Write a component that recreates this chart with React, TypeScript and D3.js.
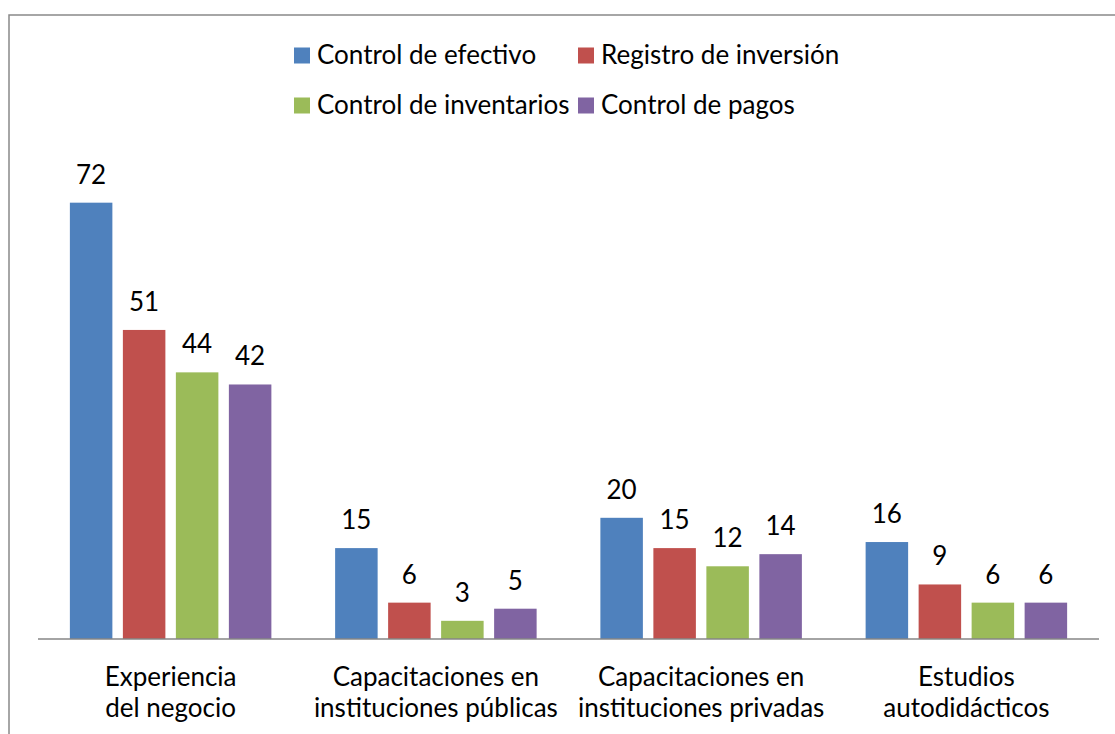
import React from "react";
import * as d3 from "d3";

const categories = [
  ["Experiencia", "del negocio"],
  ["Capacitaciones en", "instituciones públicas"],
  ["Capacitaciones en", "instituciones privadas"],
  ["Estudios", "autodidácticos"],
];
const categoryKeys = ["exp", "pub", "priv", "auto"];
const seriesNames = ["Control de efectivo", "Registro de inversión", "Control de inventarios", "Control de pagos"];
const seriesColors = ["#4F81BD", "#C0504D", "#9BBB59", "#8064A2"];
const controlEfectivo = [72, 15, 20, 16];
const registroInversion = [51, 6, 15, 9];
const controlInventarios = [44, 3, 12, 6];
const controlPagos = [42, 5, 14, 6];
const seriesValues = [controlEfectivo, registroInversion, controlInventarios, controlPagos];

const W = 1115;
const H = 734;
const FONT = "Lato, 'Open Sans', sans-serif";
const FS = 26;

export default function App() {
  const x0 = d3.scaleBand<string>().domain(categoryKeys).range([38, 1099]).paddingInner(0).paddingOuter(0);
  const groupW = 201.5;
  const x1 = d3.scaleBand<string>().domain(seriesNames).range([0, groupW]).paddingInner(0.198).paddingOuter(0);
  const y = d3.scaleLinear().domain([0, 80]).range([639, 154.2]);

  const legendPos = [
    { x: 294, y: 47.5 },
    { x: 578, y: 47.5 },
    { x: 294, y: 97.5 },
    { x: 578, y: 97.5 },
  ];

  return (
    <svg
      width={W}
      height={H}
      style={{ position: "absolute", left: 0, top: 0, display: "block", background: "#fff" }}
      fontFamily={FONT}
      fontSize={FS}
    >
      <rect x={9} y={15} width={W + 20} height={H + 20} fill="#fff" stroke="#898989" strokeWidth={1.5} />
      {/* legend */}
      {seriesNames.map((s, i) => (
        <g key={s}>
          <rect x={legendPos[i].x} y={legendPos[i].y} width={16} height={16} fill={seriesColors[i]} />
          <text x={legendPos[i].x + 23} y={legendPos[i].y + 16} fill="#000">
            {s}
          </text>
        </g>
      ))}
      {/* bars */}
      {categoryKeys.map((c, ci) => {
        const gx = (x0(c) as number) + (x0.bandwidth() - groupW) / 2;
        return (
          <g key={c} transform={`translate(${gx},0)`}>
            {seriesNames.map((s, si) => {
              const v = seriesValues[si][ci];
              const bx = x1(s) as number;
              return (
                <g key={s}>
                  <rect x={bx} y={y(v)} width={x1.bandwidth()} height={y(0) - y(v)} fill={seriesColors[si]} />
                  <text x={bx + x1.bandwidth() / 2} y={y(v) - 19} textAnchor="middle" fill="#000">
                    {v}
                  </text>
                </g>
              );
            })}
          </g>
        );
      })}
      {/* axis */}
      <line x1={38} x2={1099} y1={639} y2={639} stroke="#868686" strokeWidth={1.5} />
      {categoryKeys.map((c, ci) => {
        const cx = (x0(c) as number) + x0.bandwidth() / 2;
        return (
          <text key={c} x={cx} textAnchor="middle" fill="#000">
            <tspan x={cx} y={685.5}>{categories[ci][0]}</tspan>
            <tspan x={cx} y={716.5}>{categories[ci][1]}</tspan>
          </text>
        );
      })}
    </svg>
  );
}
